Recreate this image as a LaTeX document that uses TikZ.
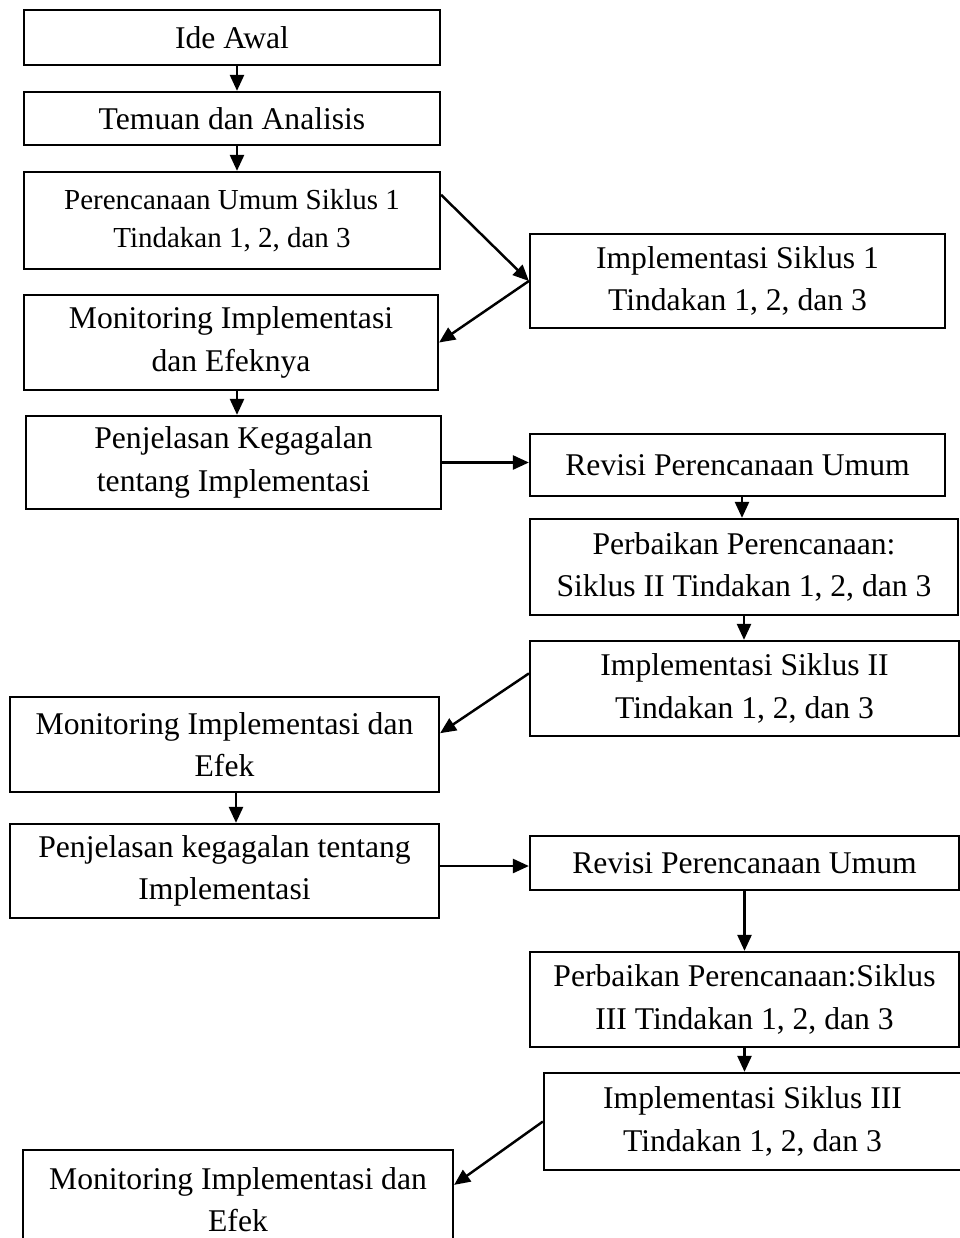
\documentclass[tikz,border=0pt]{standalone}
\usepackage{fontspec}
\setmainfont{Liberation Serif}
\usetikzlibrary{arrows.meta}
\tikzset{
    box/.style={draw, line width=1.3pt, inner sep=0pt, align=center, font=\fontsize{18}{24}\selectfont},
    >={Triangle[length=0.32cm, width=0.28cm]}
}
\begin{document}
\begin{tikzpicture}[x=0.02cm, y=-0.02cm, line width=1.4pt]
    \clip (0,0) rectangle (960,1238);
    \node[box, minimum width=8.32cm, minimum height=1.1cm] (ide) at (232,37.5) {Ide Awal};
    \node[box, minimum width=8.32cm, minimum height=1.06cm] (temuan) at (232,118.5) {Temuan dan Analisis};
    \node[box, minimum width=8.32cm, minimum height=1.94cm, font=\fontsize{16.5}{22}\selectfont] (renc1) at (232,220.5) {Perencanaan Umum Siklus 1\\Tindakan 1, 2, dan 3};
    \node[box, minimum width=8.3cm, minimum height=1.88cm] (impl1) at (737.5,281) {Implementasi Siklus 1\\Tindakan 1, 2, dan 3};
    \node[box, minimum width=8.28cm, minimum height=1.9cm] (mon1) at (231,342.5) {Monitoring Implementasi\\dan Efeknya};
    \node[box, minimum width=8.3cm, minimum height=1.86cm] (jelas1) at (233.5,462.5) {Penjelasan Kegagalan\\tentang Implementasi};
    \node[box, minimum width=8.3cm, minimum height=1.24cm] (rev1) at (737.5,465) {Revisi Perencanaan Umum};
    \node[box, minimum width=8.56cm, minimum height=1.92cm] (perb2) at (744,567) {Perbaikan Perencanaan:\\Siklus II Tindakan 1, 2, dan 3};
    \node[box, minimum width=8.58cm, minimum height=1.9cm] (impl2) at (744.5,688.5) {Implementasi Siklus II\\Tindakan 1, 2, dan 3};
    \node[box, minimum width=8.58cm, minimum height=1.9cm] (mon2) at (224.5,744.5) {Monitoring Implementasi dan\\Efek};
    \node[box, minimum width=8.58cm, minimum height=1.88cm] (jelas2) at (224.5,871) {Penjelasan kegagalan tentang\\Implementasi};
    \node[box, minimum width=8.58cm, minimum height=1.08cm] (rev2) at (744.5,863) {Revisi Perencanaan Umum};
    \node[box, minimum width=8.58cm, minimum height=1.9cm] (perb3) at (744.5,999.5) {Perbaikan Perencanaan:Siklus\\III Tindakan 1, 2, dan 3};
    \node[box, minimum width=8.34cm, minimum height=1.94cm] (impl3) at (752.5,1121.5) {Implementasi Siklus III\\Tindakan 1, 2, dan 3};
    \node[box, minimum width=8.6cm, minimum height=2cm] (mon3) at (238,1200) {Monitoring Implementasi dan\\Efek};
    \draw[->] ([xshift=.1cm]ide.south) -- ([xshift=.1cm]temuan.north);
    \draw[->] ([xshift=.1cm]temuan.south) -- ([xshift=.1cm]renc1.north);
    \draw[->] (renc1.7) -- (impl1.west);
    \draw[->] (impl1.west) -- (mon1.east);
    \draw[->] ([xshift=.12cm]mon1.south) -- ([xshift=.12cm]mon1.south |- jelas1.north);
    \draw[->] (jelas1.east) -- (jelas1.east -| rev1.west);
    \draw[->] ([xshift=.09cm]rev1.south) -- ([xshift=.09cm]rev1.south |- perb2.north);
    \draw[->] (perb2.south) -- (perb2.south |- impl2.north);
    \draw[->] (impl2.176) -- (mon2.3);
    \draw[->] ([xshift=.23cm]mon2.south) -- ([xshift=.23cm]jelas2.north);
    \draw[->] ([yshift=.1cm]jelas2.east) -- ([yshift=.1cm]jelas2.east -| rev2.west);
    \draw[->] (rev2.south) -- (rev2.south |- perb3.north);
    \draw[->] (perb3.south) -- (perb3.south |- impl3.north);
    \draw[->] (impl3.west) -- (mon3.4);
\end{tikzpicture}
\end{document}
